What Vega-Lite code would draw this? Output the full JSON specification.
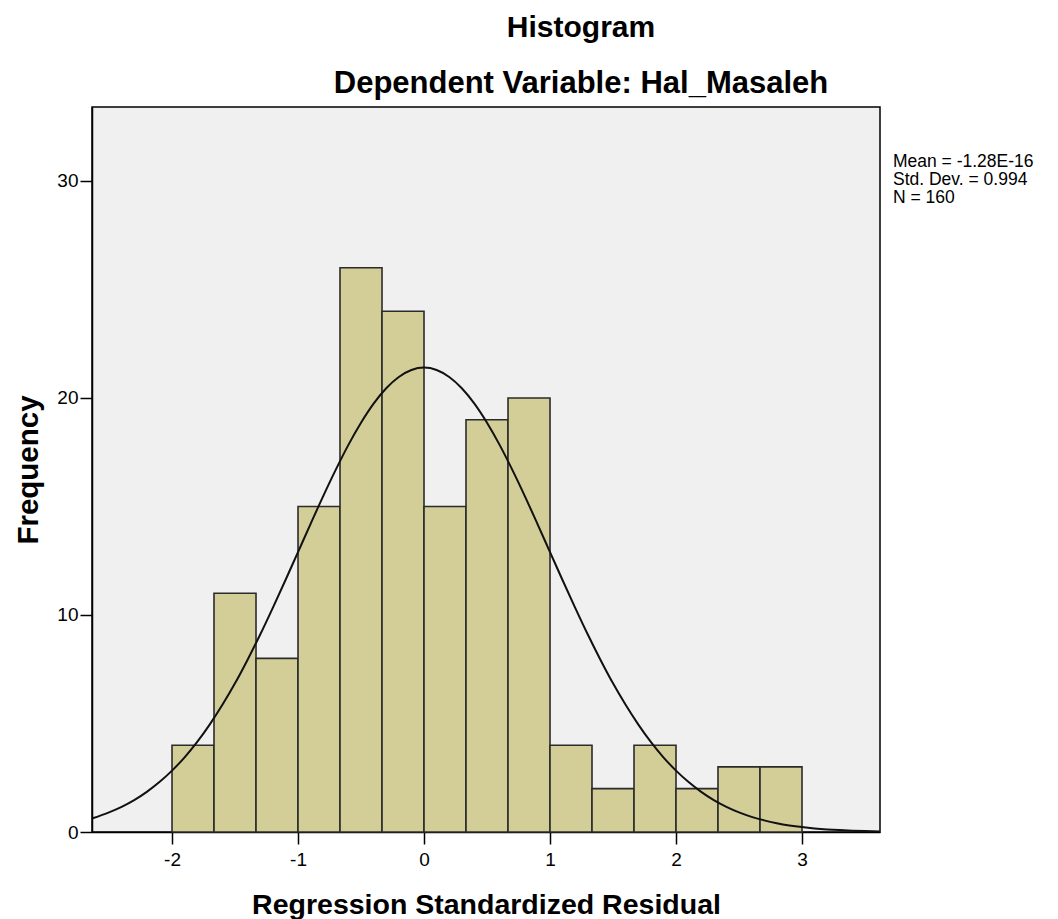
{
  "$schema": "https://vega.github.io/schema/vega-lite/v6.json",
  "autosize": "none",
  "width": 788,
  "height": 725,
  "padding": {"left": 92, "top": 107, "right": 178, "bottom": 87},
  "background": "white",
  "config": {
    "font": "Liberation Sans",
    "view": {"fill": "#f0f0f0", "stroke": "#000000", "strokeWidth": 1.5}
  },
  "title": {
    "text": "Histogram",
    "subtitle": "Dependent Variable: Hal_Masaleh",
    "anchor": "middle",
    "dx": 95,
    "offset": 8,
    "fontSize": 30,
    "fontWeight": "bold",
    "color": "#000000",
    "subtitleFontSize": 31,
    "subtitleFontWeight": "bold",
    "subtitleColor": "#000000",
    "subtitlePadding": 26,
    "font": "Liberation Sans",
    "subtitleFont": "Liberation Sans"
  },
  "datasets": {
    "bins": [
      {"start": -2.0, "end": -1.6667, "count": 4},
      {"start": -1.6667, "end": -1.3333, "count": 11},
      {"start": -1.3333, "end": -1.0, "count": 8},
      {"start": -1.0, "end": -0.6667, "count": 15},
      {"start": -0.6667, "end": -0.3333, "count": 26},
      {"start": -0.3333, "end": 0.0, "count": 24},
      {"start": 0.0, "end": 0.3333, "count": 15},
      {"start": 0.3333, "end": 0.6667, "count": 19},
      {"start": 0.6667, "end": 1.0, "count": 20},
      {"start": 1.0, "end": 1.3333, "count": 4},
      {"start": 1.3333, "end": 1.6667, "count": 2},
      {"start": 1.6667, "end": 2.0, "count": 4},
      {"start": 2.0, "end": 2.3333, "count": 2},
      {"start": 2.3333, "end": 2.6667, "count": 3},
      {"start": 2.6667, "end": 3.0, "count": 3}
    ],
    "curve": [
      {"x": -2.63, "y": 0.63},
      {"x": -2.5, "y": 0.905},
      {"x": -2.4, "y": 1.16},
      {"x": -2.3, "y": 1.47},
      {"x": -2.2, "y": 1.85},
      {"x": -2.1, "y": 2.30},
      {"x": -2.0, "y": 2.83},
      {"x": -1.9, "y": 3.44},
      {"x": -1.8, "y": 4.15},
      {"x": -1.7, "y": 4.96},
      {"x": -1.6, "y": 5.86},
      {"x": -1.5, "y": 6.85},
      {"x": -1.4, "y": 7.94},
      {"x": -1.3, "y": 9.10},
      {"x": -1.2, "y": 10.33},
      {"x": -1.1, "y": 11.60},
      {"x": -1.0, "y": 12.90},
      {"x": -0.9, "y": 14.20},
      {"x": -0.8, "y": 15.48},
      {"x": -0.7, "y": 16.70},
      {"x": -0.6, "y": 17.84},
      {"x": -0.5, "y": 18.86},
      {"x": -0.4, "y": 19.74},
      {"x": -0.3, "y": 20.45},
      {"x": -0.2, "y": 20.97},
      {"x": -0.1, "y": 21.29},
      {"x": 0.0, "y": 21.40},
      {"x": 0.1, "y": 21.29},
      {"x": 0.2, "y": 20.97},
      {"x": 0.3, "y": 20.45},
      {"x": 0.4, "y": 19.74},
      {"x": 0.5, "y": 18.86},
      {"x": 0.6, "y": 17.84},
      {"x": 0.7, "y": 16.70},
      {"x": 0.8, "y": 15.48},
      {"x": 0.9, "y": 14.20},
      {"x": 1.0, "y": 12.90},
      {"x": 1.1, "y": 11.60},
      {"x": 1.2, "y": 10.33},
      {"x": 1.3, "y": 9.10},
      {"x": 1.4, "y": 7.94},
      {"x": 1.5, "y": 6.85},
      {"x": 1.6, "y": 5.86},
      {"x": 1.7, "y": 4.96},
      {"x": 1.8, "y": 4.15},
      {"x": 1.9, "y": 3.44},
      {"x": 2.0, "y": 2.83},
      {"x": 2.1, "y": 2.30},
      {"x": 2.2, "y": 1.85},
      {"x": 2.3, "y": 1.47},
      {"x": 2.4, "y": 1.16},
      {"x": 2.5, "y": 0.905},
      {"x": 2.6, "y": 0.699},
      {"x": 2.7, "y": 0.535},
      {"x": 2.8, "y": 0.405},
      {"x": 2.9, "y": 0.303},
      {"x": 3.0, "y": 0.225},
      {"x": 3.1, "y": 0.165},
      {"x": 3.2, "y": 0.120},
      {"x": 3.3, "y": 0.087},
      {"x": 3.4, "y": 0.062},
      {"x": 3.5, "y": 0.044},
      {"x": 3.62, "y": 0.028}
    ],
    "stats": [
      {"x": 3.722, "y": 30.88, "label": "Mean = -1.28E-16"},
      {"x": 3.722, "y": 30.05, "label": "Std. Dev. = 0.994"},
      {"x": 3.722, "y": 29.22, "label": "N = 160"}
    ]
  },
  "layer": [
    {
      "data": {"name": "bins"},
      "mark": {"type": "rect", "fill": "#d3ce97", "stroke": "#2b2b2b", "strokeWidth": 1.6},
      "encoding": {
        "x": {
          "field": "start",
          "type": "quantitative",
          "scale": {"domain": [-2.635, 3.619], "nice": false, "zero": false},
          "axis": {
            "values": [-2, -1, 0, 1, 2, 3],
            "labelExpr": "toString(datum.value)",
            "title": "Regression Standardized Residual",
            "titleFontSize": 28.5,
            "titleFontWeight": "bold",
            "titleColor": "#000000",
            "titlePadding": 21,
            "labelFontSize": 19,
            "labelColor": "#000000",
            "labelPadding": 6,
            "tickSize": 12,
            "tickColor": "#000000",
            "tickWidth": 1.5,
            "domainColor": "#000000",
            "domainWidth": 1.5,
            "grid": false
          }
        },
        "x2": {"field": "end"},
        "y": {
          "field": "count",
          "type": "quantitative",
          "scale": {"domain": [0, 33.41], "nice": false},
          "axis": {
            "values": [0, 10, 20, 30],
            "title": "Frequency",
            "titleFontSize": 29.5,
            "titleFontWeight": "bold",
            "titleColor": "#000000",
            "titlePadding": 13,
            "labelFontSize": 19,
            "labelColor": "#000000",
            "labelPadding": 2,
            "tickSize": 12,
            "tickColor": "#000000",
            "tickWidth": 1.5,
            "domainColor": "#000000",
            "domainWidth": 1.5,
            "grid": false
          }
        },
        "y2": {"datum": 0}
      }
    },
    {
      "data": {"name": "curve"},
      "mark": {"type": "line", "color": "#111111", "strokeWidth": 2, "interpolate": "monotone", "clip": true},
      "encoding": {
        "x": {"field": "x", "type": "quantitative"},
        "y": {"field": "y", "type": "quantitative"}
      }
    },
    {
      "data": {"name": "stats"},
      "mark": {"type": "text", "align": "left", "baseline": "middle", "fontSize": 17.5, "color": "#000000", "font": "Liberation Sans"},
      "encoding": {
        "x": {"field": "x", "type": "quantitative"},
        "y": {"field": "y", "type": "quantitative"},
        "text": {"field": "label"}
      }
    }
  ]
}
